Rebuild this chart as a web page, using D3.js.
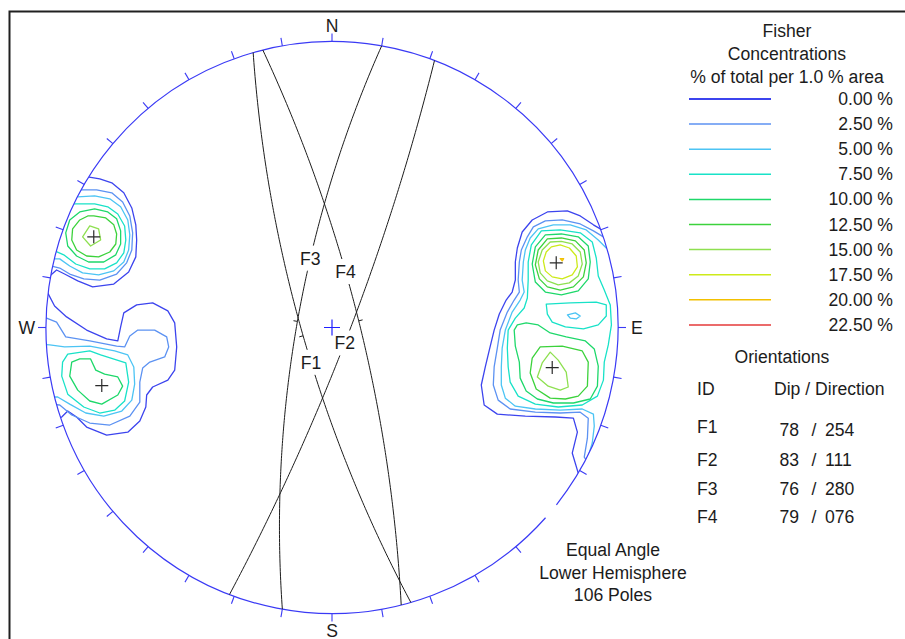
<!DOCTYPE html>
<html>
<head>
<meta charset="utf-8">
<script src="https://cdnjs.cloudflare.com/ajax/libs/d3/7.8.5/d3.min.js"></script>
<style>
  html, body { margin: 0; padding: 0; background: #ffffff; }
  svg { display: block; font-family: "Liberation Sans", Arial, Helvetica, sans-serif; }
</style>
</head>
<body>
<svg id="chart" width="905" height="639"></svg>
<script>
// ---------------------------------------------------------------
// Data
// ---------------------------------------------------------------

// Fisher concentration contour levels (% of total per 1.0 % area)
const levels = [0, 2.5, 5, 7.5, 10, 12.5, 15, 17.5, 20, 22.5];

// Planes: id, dip, dip direction
const planeIds = ["F1", "F2", "F3", "F4"];
const planeDips = [78, 83, 76, 79];
const planeDipDirs = [254, 111, 280, 76];

// Summary
const projectionName = "Equal Angle";
const hemisphereName = "Lower Hemisphere";
const poleCount = 106;

// Contour traces in net coordinates: thousandths of the primitive radius,
// x positive east, y positive north. Open traces run off the primitive.
const northWestContours = [
  { level: 0, open: true, pts: [[-882,544],[-854,527],[-812,520],[-770,506],[-728,471],[-700,418],[-686,359],[-683,306],[-686,247],[-711,194],[-763,152],[-837,142],[-889,163],[-935,187],[-963,201],[-987,180],[-1015,173]] },
  { level: 2.5, open: true, pts: [[-910,488],[-879,481],[-823,481],[-770,471],[-732,439],[-707,390],[-697,331],[-700,271],[-718,226],[-753,187],[-812,166],[-868,170],[-917,187],[-952,208],[-980,215],[-1008,215]] },
  { level: 5, open: true, pts: [[-924,467],[-889,457],[-830,460],[-777,450],[-739,422],[-714,376],[-707,324],[-711,271],[-728,229],[-763,198],[-816,184],[-872,191],[-917,215],[-952,240],[-980,240],[-1010,240]] },
  { level: 7.5, open: true, pts: [[-931,436],[-903,432],[-830,432],[-784,422],[-749,397],[-725,355],[-721,306],[-728,261],[-753,226],[-795,205],[-847,205],[-896,222],[-938,254],[-970,268],[-1000,268]] },
  { level: 10, open: false, pts: [[-830,415],[-784,404],[-753,380],[-739,338],[-739,292],[-756,254],[-798,229],[-851,229],[-893,250],[-924,285],[-931,331],[-917,376],[-882,404]] },
  { level: 12.5, open: false, pts: [[-833,390],[-791,383],[-763,359],[-753,327],[-756,292],[-777,264],[-816,247],[-858,250],[-893,271],[-910,306],[-907,345],[-882,376],[-854,390]] },
  { level: 15, open: false, pts: [[-872,317],[-847,355],[-816,345],[-809,306],[-844,285]] }
];

const southWestContours = [
  { level: 0, open: true, pts: [[-1022,131],[-994,121],[-970,75],[-928,37],[-858,-9],[-788,-40],[-749,-47],[-739,2],[-728,51],[-683,79],[-627,86],[-574,58],[-550,16],[-543,-68],[-550,-149],[-574,-184],[-627,-208],[-648,-236],[-651,-278],[-672,-327],[-714,-366],[-788,-376],[-858,-348],[-893,-313],[-924,-292],[-945,-313],[-970,-327]] },
  { level: 2.5, open: true, pts: [[-1022,40],[-998,33],[-963,19],[-931,-33],[-847,-47],[-753,-65],[-725,-68],[-707,-30],[-679,-9],[-620,-9],[-578,-33],[-571,-68],[-585,-103],[-637,-121],[-662,-142],[-672,-191],[-672,-261],[-707,-310],[-777,-341],[-847,-334],[-910,-306],[-952,-271],[-987,-268]] },
  { level: 5, open: true, pts: [[-1022,-58],[-987,-61],[-935,-68],[-847,-65],[-760,-82],[-714,-96],[-693,-138],[-690,-198],[-700,-254],[-735,-292],[-798,-310],[-861,-299],[-917,-268],[-959,-243],[-987,-243]] },
  { level: 7.5, open: false, pts: [[-942,-121],[-924,-93],[-847,-82],[-809,-96],[-721,-124],[-711,-191],[-725,-257],[-760,-289],[-812,-299],[-868,-278],[-924,-233],[-945,-170]] },
  { level: 10, open: false, pts: [[-910,-121],[-882,-110],[-844,-110],[-826,-149],[-795,-163],[-749,-173],[-732,-205],[-749,-236],[-805,-268],[-847,-257],[-889,-219],[-917,-170]] }
];

const eastContours = [
  { level: 0, open: true, pts: [[966,355],[938,345],[914,359],[868,390],[823,408],[753,404],[700,376],[665,334],[648,278],[641,229],[641,166],[630,124],[609,96],[585,47],[567,-9],[550,-79],[536,-138],[522,-201],[532,-271],[578,-303],[676,-310],[781,-313],[844,-317],[858,-366],[840,-439],[861,-509],[886,-534]] },
  { level: 2.5, open: true, pts: [[980,331],[949,317],[914,338],[868,362],[805,376],[746,373],[704,352],[683,317],[662,271],[655,229],[651,166],[655,124],[637,96],[613,54],[588,-9],[578,-72],[567,-138],[564,-201],[581,-254],[623,-285],[711,-296],[798,-299],[868,-296],[896,-317],[893,-387],[882,-453],[903,-485]] },
  { level: 5, open: true, pts: [[991,289],[959,278],[931,306],[889,341],[833,359],[774,359],[721,345],[693,313],[676,271],[669,229],[665,166],[672,124],[658,96],[630,54],[606,-9],[595,-72],[592,-138],[592,-201],[606,-247],[641,-275],[711,-285],[798,-289],[875,-285],[914,-303],[917,-345],[910,-404],[896,-450],[917,-471]] },
  { level: 7.5, open: false, pts: [[732,338],[798,341],[868,331],[910,299],[924,243],[931,180],[952,131],[973,79],[977,9],[966,-61],[952,-121],[949,-184],[928,-240],[875,-271],[791,-278],[711,-268],[651,-240],[623,-191],[616,-138],[613,-72],[616,-9],[641,33],[672,68],[683,103],[686,166],[686,229],[697,289]] },
  { level: 7.5, open: false, pts: [[749,82],[833,86],[924,89],[959,79],[959,40],[931,9],[879,-5],[816,2],[770,19],[753,47]] },
  { level: 5, open: false, pts: [[823,44],[851,51],[868,40],[854,30],[833,33]] },
  { level: 10, open: false, pts: [[746,324],[802,327],[861,317],[896,285],[903,229],[896,170],[861,128],[802,114],[746,124],[711,159],[700,222],[711,282]] },
  { level: 12.5, open: false, pts: [[753,310],[802,313],[851,303],[882,271],[889,226],[879,177],[844,142],[798,131],[753,142],[725,170],[711,219],[721,271]] },
  { level: 15, open: false, pts: [[763,299],[802,301],[840,292],[868,264],[875,222],[861,180],[830,156],[791,149],[753,163],[728,191],[721,229],[735,271]] },
  { level: 17.5, open: false, pts: [[767,282],[798,289],[830,278],[854,250],[858,212],[840,184],[805,170],[770,177],[746,198],[739,233],[749,264]] },
  { level: 20, open: false, pts: [[798,241],[810,241],[805,233]] },
  { level: 10, open: false, pts: [[637,-9],[648,9],[679,16],[721,9],[763,-19],[819,-33],[886,-47],[917,-75],[931,-135],[928,-205],[903,-250],[844,-264],[774,-264],[718,-250],[679,-222],[658,-177],[655,-121],[641,-65]] },
  { level: 12.5, open: false, pts: [[728,-68],[805,-65],[875,-82],[896,-121],[893,-205],[861,-240],[816,-250],[763,-247],[714,-215],[693,-159],[700,-107]] },
  { level: 15, open: false, pts: [[763,-86],[791,-114],[819,-156],[826,-208],[798,-219],[756,-205],[718,-173],[735,-124]] }
];

// Density maxima of the pole clusters (net coordinates, thousandths of radius)
const peakPoles = [[-833,317],[-805,-203],[784,226],[770,-140]];

// ---------------------------------------------------------------
// Styles and layout
// ---------------------------------------------------------------
const levelColors = ["#3c44ee", "#5c92f2", "#4cc4f4", "#18e2c8", "#1ed86a",
                     "#3cd23c", "#8ee050", "#cdea1a", "#f2c000", "#e53a3a"];
const netBlue = "#3a3af5";
const ink = "#1c1c1c";
const fontSize = 17.6;

const W = 905, H = 639;
const cx = 332, cy = 327.5, R = 286;
// position of each plane label along its trace (degrees from the strike end)
const labelAlong = [79, 94, 115, 70];

// ---------------------------------------------------------------
// Scales
// ---------------------------------------------------------------
const x = d3.scaleLinear().domain([-1000, 1000]).range([cx - R, cx + R]);
const y = d3.scaleLinear().domain([-1000, 1000]).range([cy + R, cy - R]);
const color = d3.scaleOrdinal().domain(levels).range(levelColors);
const lineOpen = d3.line().x(d => x(d[0])).y(d => y(d[1]));
const lineClosed = d3.line().x(d => x(d[0])).y(d => y(d[1])).curve(d3.curveLinearClosed);

const svg = d3.select("#chart");
const rad = a => a * Math.PI / 180;

// stereographic (equal angle) lower-hemisphere projection of a unit vector
function project(e, n, down) {
  return [1000 * e / (1 + down), 1000 * n / (1 + down)];
}

// trace of a plane: t from 0 (strike direction) to 180 degrees
function planePoint(dip, dipDir, t) {
  const s = rad(dipDir - 90), dd = rad(dipDir), dp = rad(dip), tr = rad(t);
  const sv = [Math.sin(s), Math.cos(s), 0];
  const dv = [Math.cos(dp) * Math.sin(dd), Math.cos(dp) * Math.cos(dd), Math.sin(dp)];
  const c = Math.cos(tr), si = Math.sin(tr);
  return project(c * sv[0] + si * dv[0], c * sv[1] + si * dv[1], c * sv[2] + si * dv[2]);
}

// ---------------------------------------------------------------
// Frame
// ---------------------------------------------------------------
svg.append("path")
  .attr("d", `M9.5,${H + 4}V11.5H${W + 4}`)
  .attr("fill", "none")
  .attr("stroke", "#202020")
  .attr("stroke-width", 2);

// ---------------------------------------------------------------
// Contours (clipped to the primitive circle)
// ---------------------------------------------------------------
svg.append("defs").append("clipPath").attr("id", "net-clip")
  .append("circle").attr("cx", x(0)).attr("cy", y(0)).attr("r", x(1000) - x(0));

const contourG = svg.append("g").attr("clip-path", "url(#net-clip)");
[...northWestContours, ...southWestContours, ...eastContours].forEach(c => {
  contourG.append("path")
    .attr("d", (c.open ? lineOpen : lineClosed)(c.pts))
    .attr("fill", "none")
    .attr("stroke", color(c.level))
    .attr("stroke-width", 1.3)
    .attr("stroke-linejoin", "round");
});

// ---------------------------------------------------------------
// Primitive circle, azimuth ticks, compass letters
// ---------------------------------------------------------------
const netR = x(1000) - x(0);
const screenAngle = az => rad(az - 90);
const gapAz = [128.3, 131.7];
const prim = d3.path();
prim.moveTo(x(0) + netR * Math.cos(screenAngle(gapAz[1])), y(0) + netR * Math.sin(screenAngle(gapAz[1])));
prim.arc(x(0), y(0), netR, screenAngle(gapAz[1]), screenAngle(gapAz[0] + 360));
svg.append("path").attr("d", prim.toString())
  .attr("fill", "none").attr("stroke", netBlue).attr("stroke-width", 1.2);

const tickAz = d3.range(0, 360, 10).filter(a => a !== 130);
svg.append("g").selectAll("line").data(tickAz).join("line")
  .attr("x1", a => x(0) + netR * Math.sin(rad(a)))
  .attr("y1", a => y(0) - netR * Math.cos(rad(a)))
  .attr("x2", a => x(0) + (netR + 8) * Math.sin(rad(a)))
  .attr("y2", a => y(0) - (netR + 8) * Math.cos(rad(a)))
  .attr("stroke", netBlue).attr("stroke-width", 1.1);

const compass = svg.append("g").attr("font-size", fontSize).attr("fill", ink);
compass.append("text").attr("x", x(0)).attr("y", y(1000) - 10).attr("text-anchor", "middle").text("N");
compass.append("text").attr("x", x(0)).attr("y", y(-1000) + 23).attr("text-anchor", "middle").text("S");
compass.append("text").attr("x", x(-1000) - 11).attr("y", y(0) + 6).attr("text-anchor", "end").text("W");
compass.append("text").attr("x", x(1000) + 13).attr("y", y(0) + 6.5).attr("text-anchor", "start").text("E");

// ---------------------------------------------------------------
// Plane traces
// ---------------------------------------------------------------
const planeG = svg.append("g");
planeIds.forEach((id, i) => {
  const pts = d3.range(0, 180.5, 1).map(t => planePoint(planeDips[i], planeDipDirs[i], t));
  planeG.append("path").attr("d", lineOpen(pts))
    .attr("fill", "none").attr("stroke", ink).attr("stroke-width", 1);
  // dip tick at the trace midpoint
  const m = planePoint(planeDips[i], planeDipDirs[i], 90);
  const a = rad(planeDipDirs[i]);
  planeG.append("line")
    .attr("x1", x(m[0])).attr("y1", y(m[1]))
    .attr("x2", x(m[0]) + 4 * Math.sin(a)).attr("y2", y(m[1]) - 4 * Math.cos(a))
    .attr("stroke", ink).attr("stroke-width", 1);
});

// plane labels with a white box that breaks the trace
const labelG = svg.append("g").attr("font-size", fontSize).attr("fill", ink);
planeIds.forEach((id, i) => {
  const p = planePoint(planeDips[i], planeDipDirs[i], labelAlong[i]);
  const box = labelG.append("rect").attr("fill", "#ffffff");
  const t = labelG.append("text")
    .attr("x", x(p[0])).attr("y", y(p[1])).attr("dy", "0.36em")
    .attr("text-anchor", "middle").text(id);
  const bb = t.node().getBBox();
  box.attr("x", bb.x - 2).attr("y", bb.y - 3).attr("width", bb.width + 4).attr("height", bb.height + 5);
});

// ---------------------------------------------------------------
// Cluster maxima and net centre
// ---------------------------------------------------------------
const crossG = svg.append("g");
peakPoles.forEach(p => {
  crossG.append("path")
    .attr("d", `M${x(p[0]) - 6.5},${y(p[1])}h13M${x(p[0])},${y(p[1]) - 6.5}v13`)
    .attr("stroke", "#2a2a2a").attr("stroke-width", 1.2).attr("fill", "none");
});
crossG.append("path")
  .attr("d", `M${x(0) - 8},${y(0)}h16M${x(0)},${y(0) - 8}v16`)
  .attr("stroke", "#2020ff").attr("stroke-width", 1.2).attr("fill", "none");

// ---------------------------------------------------------------
// Legend
// ---------------------------------------------------------------
const legend = svg.append("g").attr("font-size", fontSize).attr("fill", ink);
const legendCx = 787;
["Fisher", "Concentrations", "% of total per 1.0 % area"].forEach((s, i) => {
  legend.append("text").attr("x", legendCx).attr("y", [37, 60, 82.5][i])
    .attr("text-anchor", "middle").text(s);
});
const fmt = d3.format(".2f");
levels.forEach((v, i) => {
  const ly = 99 + i * 25.1;
  legend.append("line").attr("x1", 689).attr("x2", 771).attr("y1", ly).attr("y2", ly)
    .attr("stroke", color(v)).attr("stroke-width", i === 0 ? 1.8 : 1.5);
  legend.append("text").attr("x", 893).attr("y", ly + 6)
    .attr("text-anchor", "end").text(`${fmt(v)} %`);
});

// orientation table
legend.append("text").attr("x", 782).attr("y", 363).attr("text-anchor", "middle").text("Orientations");
legend.append("text").attr("x", 697).attr("y", 395).text("ID");
legend.append("text").attr("x", 774).attr("y", 395).text("Dip / Direction");
const rowY = [432.5, 465.7, 495, 522.7];
const valY = [435.7, 465.7, 495, 522.7];
const dirFmt = d3.format("03d");
planeIds.forEach((id, i) => {
  legend.append("text").attr("x", 697).attr("y", rowY[i]).text(id);
  legend.append("text").attr("x", 779.5).attr("y", valY[i]).text(planeDips[i]);
  legend.append("text").attr("x", 814).attr("y", valY[i]).attr("text-anchor", "middle").text("/");
  legend.append("text").attr("x", 825).attr("y", valY[i]).text(dirFmt(planeDipDirs[i]));
});

// projection summary
[projectionName, hemisphereName, `${poleCount} Poles`].forEach((s, i) => {
  legend.append("text").attr("x", 613).attr("y", [556, 579.3, 601][i])
    .attr("text-anchor", "middle").text(s);
});
</script>
</body>
</html>
